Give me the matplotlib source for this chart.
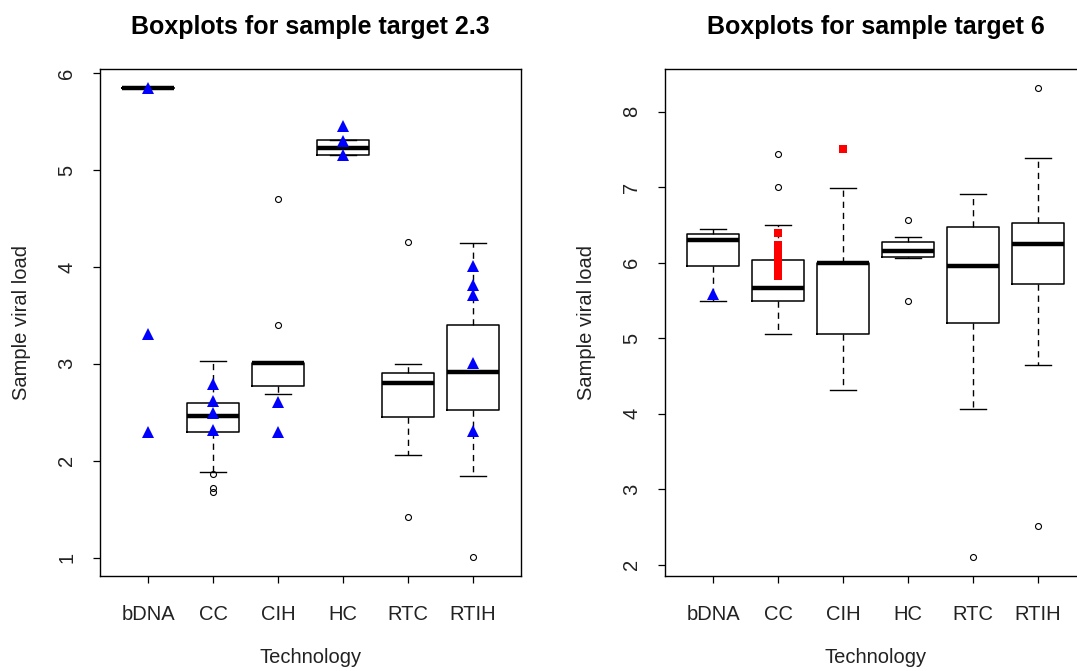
import numpy as np
import matplotlib
matplotlib.use("Agg")
import matplotlib.pyplot as plt

plt.rcParams["font.family"] = ["Liberation Sans", "DejaVu Sans"]

techs = ["bDNA", "CC", "CIH", "HC", "RTC", "RTIH"]

# target 2.3 : box statistics
t23_med = [5.845, 2.463, 3.005, 5.231, 2.798, 2.918]
t23_q1 = [5.845, 2.301, 2.770, 5.151, 2.449, 2.525]
t23_q3 = [5.845, 2.597, 3.005, 5.313, 2.905, 3.405]
t23_lo = [5.845, 1.883, 2.690, 5.151, 2.056, 1.842]
t23_hi = [5.845, 3.029, 3.005, 5.313, 2.998, 4.250]
t23_out = [[], [1.86, 1.72, 1.68], [4.70, 3.40], [], [4.254, 1.421], [1.003]]
t23_tri = [[5.85, 3.31, 2.30], [2.79, 2.615, 2.49, 2.315], [2.61, 2.30],
           [5.46, 5.30, 5.155], [], [4.005, 3.816, 3.71, 3.01, 2.31]]

# target 6
t6_med = [6.306, 5.663, 5.995, 6.151, 5.960, 6.253]
t6_q1 = [5.955, 5.490, 5.060, 6.075, 5.197, 5.721]
t6_q3 = [6.377, 6.031, 5.995, 6.270, 6.479, 6.527]
t6_lo = [5.490, 5.060, 4.315, 6.067, 4.058, 4.648]
t6_hi = [6.443, 6.497, 6.993, 6.342, 6.909, 7.388]
t6_out = [[], [7.437, 7.006], [], [6.572, 5.499], [2.097], [8.319, 2.515]]
t6_tri = [[5.585], [], [], [], [], []]
t6_sq = [[], [6.40, 6.23, 6.16, 6.08, 6.00, 5.92, 5.82], [7.512], [], [], []]


def make_stats(med, q1, q3, lo, hi, out):
    stats = []
    for i in range(len(med)):
        stats.append(dict(med=med[i], q1=q1[i], q3=q3[i], whislo=lo[i],
                          whishi=hi[i], fliers=out[i], label=techs[i]))
    return stats


def draw_panel(ax, stats, tri, sq, title, ylim, yticks):
    pos = np.arange(1, len(stats) + 1)
    ax.bxp(stats, positions=pos, widths=0.8, capwidths=0.4, showfliers=True,
           boxprops=dict(color="black", lw=1.1),
           medianprops=dict(color="black", lw=3.2, solid_capstyle="butt"),
           whiskerprops=dict(color="black", lw=1.0, linestyle=(0, (4.5, 3.5))),
           capprops=dict(color="black", lw=1.0),
           flierprops=dict(marker="o", markersize=4.3, markerfacecolor="none",
                           markeredgecolor="black", markeredgewidth=0.8))
    for i in range(len(tri)):
        if tri[i]:
            ax.plot([pos[i]] * len(tri[i]), tri[i], "^", color="blue",
                    markersize=9, markeredgewidth=0, zorder=5)
        if sq[i]:
            ax.plot([pos[i]] * len(sq[i]), sq[i], "s", color="red",
                    markersize=6.4, markeredgewidth=0, zorder=5)
    ax.set_xlim(0.26, len(stats) + 0.74)
    ax.set_ylim(*ylim)
    ax.set_yticks(yticks)
    ax.set_xticks(pos)
    ax.set_xticklabels(techs)
    ax.tick_params(axis="both", direction="out", length=5, width=0.9,
                   labelsize=14.5, color="black", labelcolor="#222222")
    ax.tick_params(axis="x", pad=16)
    ax.tick_params(axis="y", pad=12)
    for lab in ax.get_yticklabels():
        lab.set_rotation(90)
        lab.set_va("center")
    for s in ax.spines.values():
        s.set_linewidth(1.0)
    ax.set_title(title, fontsize=18, fontweight="bold", pad=25)
    ax.set_xlabel("Technology", fontsize=14.5, labelpad=17, color="#222222")
    ax.set_ylabel("Sample viral load", fontsize=14.5, labelpad=19,
                  color="#222222")


fig = plt.figure(figsize=(10.77, 6.71), dpi=100)
ax1 = fig.add_axes([100 / 1077, 95 / 671, 421 / 1077, 507 / 671])
ax2 = fig.add_axes([665 / 1077, 95 / 671, 421 / 1077, 507 / 671])

draw_panel(ax1, make_stats(t23_med, t23_q1, t23_q3, t23_lo, t23_hi, t23_out),
           t23_tri, [[]] * 6, "Boxplots for sample target 2.3",
           (0.809, 6.044), [1, 2, 3, 4, 5, 6])
draw_panel(ax2, make_stats(t6_med, t6_q1, t6_q3, t6_lo, t6_hi, t6_out),
           t6_tri, t6_sq, "Boxplots for sample target 6",
           (1.848, 8.568), [2, 3, 4, 5, 6, 7, 8])

fig.savefig("out.png", dpi=100)
